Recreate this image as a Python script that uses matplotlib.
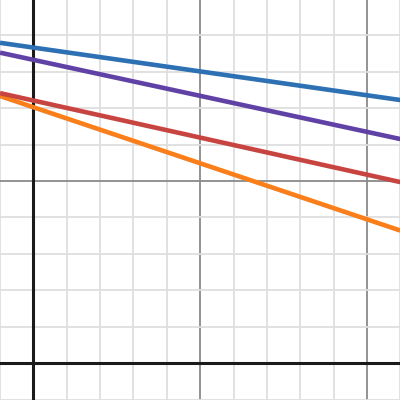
import matplotlib.pyplot as plt
import numpy as np

# line endpoints read at x = -1 and x = 11
x_ends = [-1, 11]
blue = [8.79, 7.22]
purple = [8.52, 6.15]
orange = [7.33, 3.64]
red = [7.41, 4.97]

fig = plt.figure(figsize=(4, 4), dpi=100)
ax = fig.add_axes([0, 0, 1, 1])
ax.set_xlim(-1.0, 10.99)
ax.set_ylim(-1.007, 9.964)

# grid: minor every 1, major every 5
for gx in range(-1, 12):
    if gx == 0:
        continue
    major = gx % 5 == 0
    ax.axvline(gx, color='#8a8a8a' if major else '#dedede', lw=1.3, zorder=1)
for gy in range(-1, 11):
    if gy == 0:
        continue
    major = gy % 5 == 0
    ax.axhline(gy, color='#8a8a8a' if major else '#dedede', lw=1.3, zorder=1)
ax.axvline(0, color='#1a1a1a', lw=2.2, zorder=2)
ax.axhline(0, color='#1a1a1a', lw=2.2, zorder=2)

ax.plot(x_ends, blue, color='#2d70b3', lw=3.3, zorder=3, solid_capstyle='butt')
ax.plot(x_ends, purple, color='#6042a6', lw=3.3, zorder=3, solid_capstyle='butt')
ax.plot(x_ends, orange, color='#fa7e19', lw=3.3, zorder=3, solid_capstyle='butt')
ax.plot(x_ends, red, color='#c74440', lw=3.3, zorder=4, solid_capstyle='butt')

ax.set_axis_off()
fig.savefig('out.png', dpi=100)
